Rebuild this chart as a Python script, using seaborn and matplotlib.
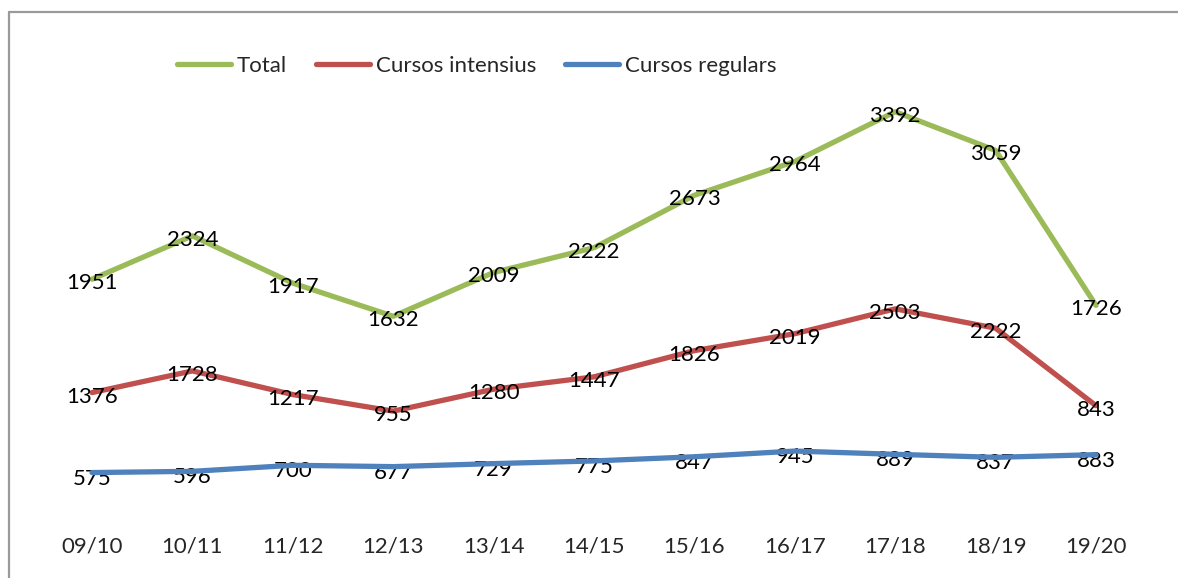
import numpy as np
import pandas as pd
import matplotlib
matplotlib.use("Agg")
import matplotlib.pyplot as plt
from matplotlib.lines import Line2D
from matplotlib.colors import to_hex
import seaborn as sns

categories = ["09/10", "10/11", "11/12", "12/13", "13/14", "14/15", "15/16", "16/17", "17/18", "18/19", "19/20"]
regulars = [575, 596, 700, 677, 729, 775, 847, 945, 889, 837, 883]
intensius = [1376, 1728, 1217, 955, 1280, 1447, 1826, 2019, 2503, 2222, 843]
total = [1951, 2324, 1917, 1632, 2009, 2222, 2673, 2964, 3392, 3059, 1726]

series_names = ["Total", "Cursos intensius", "Cursos regulars"]
colors = {"Total": "#9BBB59", "Cursos intensius": "#C0504D", "Cursos regulars": "#4F81BD"}

# Stacked line chart (as in the original): regulars, + intensius, + total
stack_reg = np.array(regulars)
stack_int = stack_reg + np.array(intensius)
stack_tot = stack_int + np.array(total)

rows = []
for name, stacked, vals in [("Total", stack_tot, total),
                            ("Cursos intensius", stack_int, intensius),
                            ("Cursos regulars", stack_reg, regulars)]:
    for i, c in enumerate(categories):
        rows.append({"x": i, "cat": c, "series": name, "y": stacked[i], "label": vals[i]})
df = pd.DataFrame(rows)

sns.set_theme(style="white")
plt.rcParams["font.family"] = ["Lato", "DejaVu Sans"]

fig = plt.figure(figsize=(11.78, 5.78), dpi=100)
ax = fig.add_axes([0.0355, 0.1246, 0.9375, 0.8044])

sns.lineplot(data=df, x="x", y="y", hue="series", hue_order=series_names,
             palette=colors, linewidth=3.8, ax=ax, legend=False)

# layering: green/red lines below their labels, blue line above its labels
for ln in ax.lines:
    if to_hex(ln.get_color()).lower() == colors["Cursos regulars"].lower():
        ln.set_zorder(5)
    else:
        ln.set_zorder(2)

for _, r in df.iterrows():
    off = -6 if r["series"] == "Cursos regulars" else -4
    ax.annotate(str(r["label"]), (r["x"], r["y"]), xytext=(0, off), textcoords="offset pixels",
                ha="center", va="center", fontsize=16, color="black", zorder=3)

ax.set_xlim(-0.5, 10.5)
ax.set_ylim(0, 8000)
ax.set_xticks(range(len(categories)))
ax.set_xticklabels(categories, fontsize=16)
ax.tick_params(axis="x", length=0, pad=22)
ax.set_yticks([])
ax.set_xlabel("")
ax.set_ylabel("")
for s in ax.spines.values():
    s.set_visible(False)

handles = [Line2D([0], [0], color=colors[n], lw=3.8) for n in series_names]
fig.legend(handles, series_names, loc="center", bbox_to_anchor=(476.5 / 1178, 1 - 66 / 578),
           ncol=3, frameon=False, fontsize=16, handlelength=2.45, handletextpad=0.25,
           columnspacing=1.3)

# outer frame (top and left visible)
fig.add_artist(Line2D([9 / 1178, 9 / 1178], [0, 1 - 12 / 578], color="#9A9A9A", lw=1.6,
                      transform=fig.transFigure))
fig.add_artist(Line2D([9 / 1178, 1], [1 - 12 / 578, 1 - 12 / 578], color="#9A9A9A", lw=1.6,
                      transform=fig.transFigure))

fig.savefig("out.png", dpi=100, facecolor="white")
